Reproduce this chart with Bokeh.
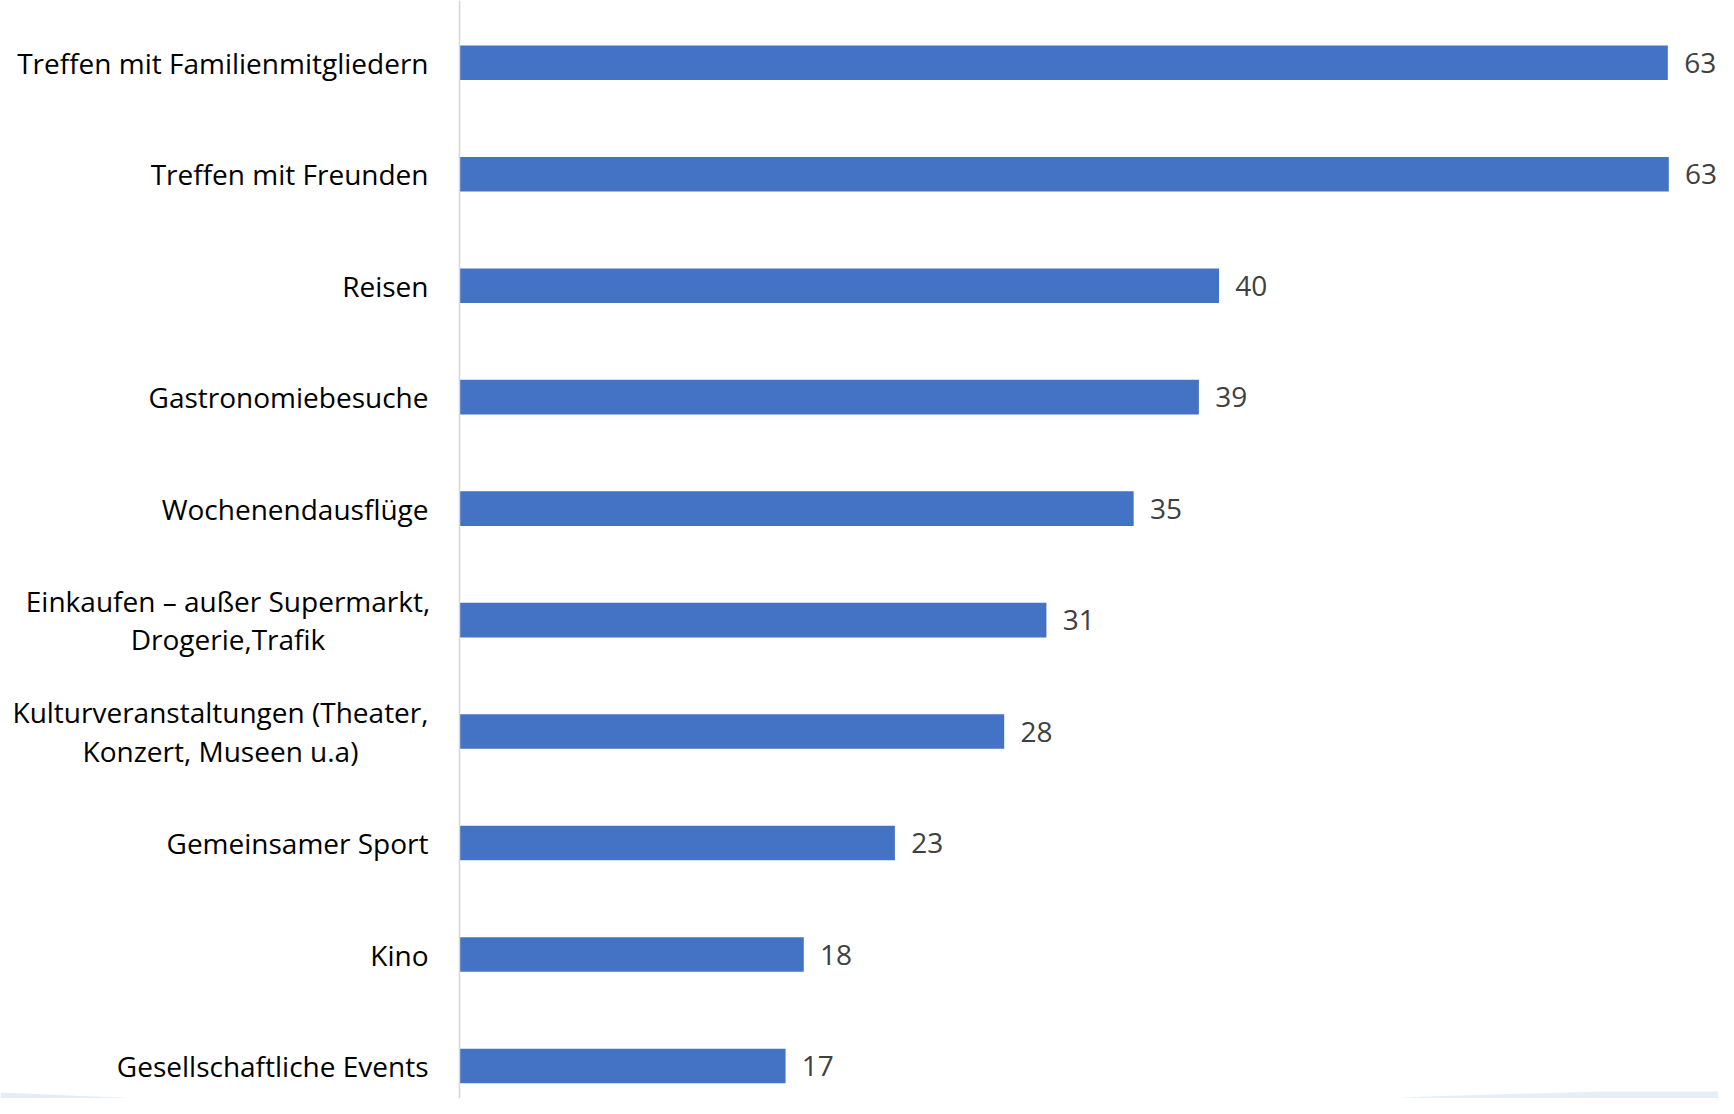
from bokeh.plotting import figure
from bokeh.models import ColumnDataSource, Span, Range1d
from bokeh.embed import file_html
from bokeh.resources import INLINE
from bokeh.core.properties import value

categories = [
    "Treffen mit Familienmitgliedern",
    "Treffen mit Freunden",
    "Reisen",
    "Gastronomiebesuche",
    "Wochenendausflüge",
    "Einkaufen – außer Supermarkt,\nDrogerie,Trafik",
    "Kulturveranstaltungen (Theater,\nKonzert, Museen u.a)",
    "Gemeinsamer Sport",
    "Kino",
    "Gesellschaftliche Events",
]
# bar lengths (the labels show them rounded)
values = [63.0, 63.05, 39.6, 38.55, 35.15, 30.6, 28.4, 22.7, 17.95, 17.0]
value_labels = ["63", "63", "40", "39", "35", "31", "28", "23", "18", "17"]

# ---- layout / style ----
W, H = 1718, 1098
PX_X = 19.18          # pixels per unit on x
PX_Y = 111.48         # pixels per category step
AXIS_PX = 459         # x pixel of the value axis (zero)
TOP_PX = 62.2         # pixel of first category centre from top
FONT = "Open Sans"
FS = "28px"
BAR_BLUE = "#4472C4"

n = len(categories)
ypos = [n - 1 - i for i in range(n)]

x0 = -AXIS_PX / PX_X
x1 = (W - AXIS_PX) / PX_X
ytop = (n - 1) + TOP_PX / PX_Y
ybot = ytop - H / PX_Y

p = figure(width=W, height=H, output_backend="svg", toolbar_location=None,
           x_range=Range1d(x0, x1), y_range=Range1d(ybot, ytop),
           min_border=0, min_border_left=0, min_border_right=0,
           min_border_top=0, min_border_bottom=0)
p.axis.visible = False
p.grid.visible = False
p.outline_line_color = None
p.background_fill_color = "white"
p.border_fill_color = "white"

def px_to_x(px):
    return (px - AXIS_PX) / PX_X

def py_to_y(py):
    return ytop - py / PX_Y

# decorative light-blue waves at the bottom (page background)
lw_px = [0, 470, 470, 0]
lw_py = [1092, 1112, 1120, 1120]
p.patch([px_to_x(v) for v in lw_px], [py_to_y(v) for v in lw_py],
        fill_color="#E4EDF9", line_color=None)
rw_px = [1120, 1250, 1424, 1600, 1740, 1740, 1120]
rw_py = [1114, 1106, 1096, 1091, 1091, 1120, 1120]
p.patch([px_to_x(v) for v in rw_px], [py_to_y(v) for v in rw_py],
        fill_color="#E6EEFA", line_color=None)
rw2_px = [1560, 1650, 1740, 1740, 1560]
rw2_py = [1114, 1104, 1099, 1120, 1120]
p.patch([px_to_x(v) for v in rw2_px], [py_to_y(v) for v in rw2_py],
        fill_color="#DCE8F8", line_color=None)

src = ColumnDataSource(dict(y=ypos, v=values, lab=value_labels,
                            lx=[v + 0.85 for v in values]))

p.hbar(y="y", right="v", left=0, height=0.31, source=src,
       fill_color=BAR_BLUE, line_color=None)

p.add_layout(Span(location=0, dimension="height", line_color="#D6D6D6",
                  line_width=1.5))

p.text(x="lx", y="y", text="lab", source=src, text_font=value(FONT),
       text_font_size=FS, text_color="#404040", text_baseline="middle",
       text_align="left")

# category labels
label_right = px_to_x(AXIS_PX - 31)
first_line_px = {5: 401, 6: 416}
cx, cy, ct, ca = [], [], [], []
for i, c in enumerate(categories):
    if "\n" in c:
        cx.append(label_right - first_line_px.get(i, 400) / 2 / PX_X)
        ca.append("center")
    else:
        cx.append(label_right)
        ca.append("right")
    cy.append(ypos[i])
    ct.append(c)
csrc = ColumnDataSource(dict(x=cx, y=cy, t=ct, a=ca))
p.text(x="x", y="y", text="t", source=csrc, text_font=value(FONT),
       text_font_size=FS, text_color="#000000", text_baseline="middle",
       text_align="a", text_line_height=1.02)

open("out.html", "w").write(file_html(p, INLINE))
